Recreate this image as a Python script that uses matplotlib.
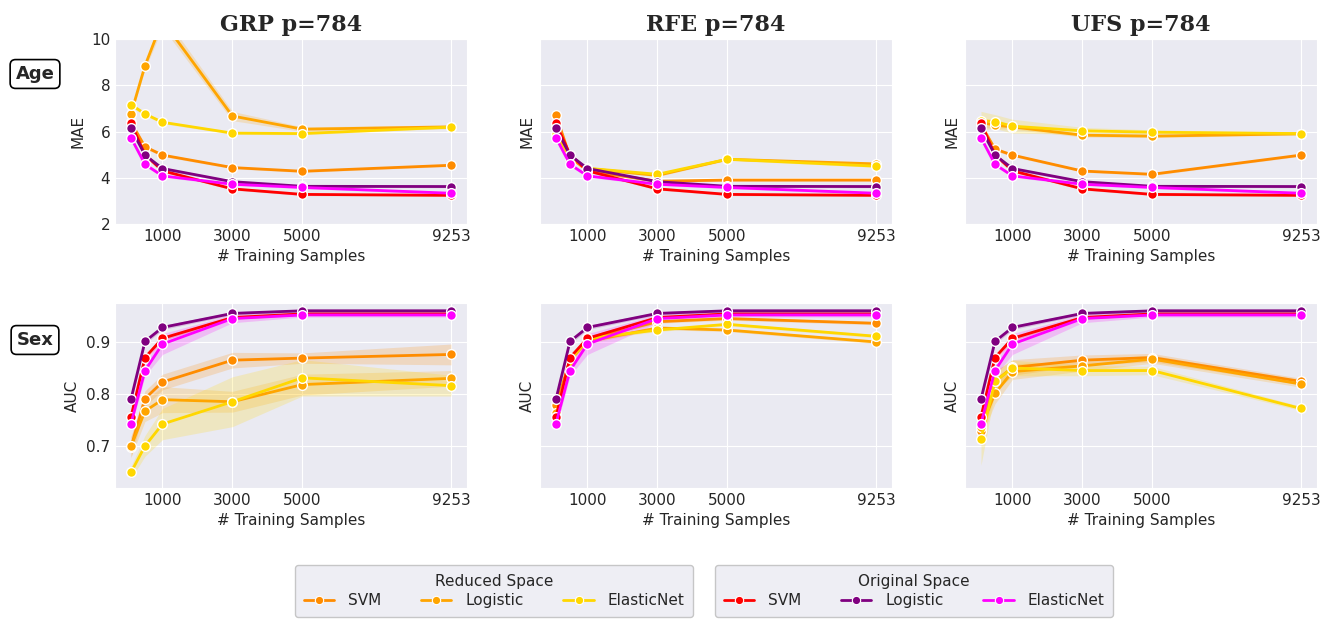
import matplotlib
matplotlib.use("Agg")
import matplotlib.pyplot as plt
import seaborn as sns
import numpy as np
from matplotlib.lines import Line2D

sns.set_style("darkgrid")
plt.rcParams['font.family'] = ['DejaVu Sans']

# ---------------- data ----------------
n_samples = [100, 500, 1000, 3000, 5000, 9253]
xticks = [1000, 3000, 5000, 9253]
methods = ["GRP", "RFE", "UFS"]
titles = ["GRP p=784", "RFE p=784", "UFS p=784"]
row_labels = ["Age", "Sex"]
ylabels = ["MAE", "AUC"]
models = ["SVM", "Logistic", "ElasticNet"]

# Original space (same for every panel)
orig_age_svm = [6.35, 5.00, 4.30, 3.52, 3.28, 3.24]
orig_age_log = [6.13, 4.98, 4.40, 3.83, 3.63, 3.62]
orig_age_en = [5.73, 4.58, 4.08, 3.72, 3.58, 3.33]
orig_sex_svm = [0.757, 0.871, 0.908, 0.948, 0.955, 0.955]
orig_sex_log = [0.791, 0.902, 0.929, 0.956, 0.961, 0.961]
orig_sex_en = [0.744, 0.846, 0.897, 0.946, 0.953, 0.953]

# Reduced space
grp_age_svm = [6.40, 5.34, 4.98, 4.44, 4.28, 4.54]
grp_age_log = [6.77, 8.84, 10.80, 6.67, 6.10, 6.20]
grp_age_en = [7.16, 6.76, 6.40, 5.93, 5.91, 6.19]
rfe_age_svm = [6.72, 4.90, 4.30, 3.85, 3.90, 3.90]
rfe_age_log = [6.20, 4.90, 4.40, 4.10, 4.80, 4.60]
rfe_age_en = [5.91, 4.87, 4.41, 4.15, 4.80, 4.50]
ufs_age_svm = [6.30, 5.24, 4.98, 4.29, 4.15, 4.98]
ufs_age_log = [6.40, 6.27, 6.20, 5.84, 5.80, 5.90]
ufs_age_en = [6.47, 6.43, 6.23, 6.03, 5.97, 5.91]

grp_sex_svm = [0.698, 0.792, 0.824, 0.866, 0.870, 0.877]
grp_sex_log = [0.700, 0.768, 0.790, 0.786, 0.819, 0.831]
grp_sex_en = [0.650, 0.701, 0.743, 0.786, 0.832, 0.817]
rfe_sex_svm = [0.779, 0.866, 0.906, 0.940, 0.946, 0.937]
rfe_sex_log = [0.765, 0.868, 0.902, 0.928, 0.924, 0.901]
rfe_sex_en = [0.757, 0.865, 0.908, 0.924, 0.935, 0.912]
ufs_sex_svm = [0.730, 0.825, 0.852, 0.866, 0.871, 0.825]
ufs_sex_log = [0.737, 0.802, 0.844, 0.855, 0.868, 0.820]
ufs_sex_en = [0.714, 0.825, 0.851, 0.846, 0.846, 0.773]

# confidence band half-widths (estimated)
band_age_default = [0.10, 0.08, 0.06, 0.05, 0.05, 0.05]
band_sex_default = [0.006, 0.005, 0.004, 0.003, 0.003, 0.003]
band_grp_age_log = [0.10, 0.15, 0.30, 0.20, 0.10, 0.08]
band_ufs_age_en = [0.40, 0.30, 0.30, 0.15, 0.10, 0.06]
band_ufs_age_log = [0.20, 0.15, 0.10, 0.08, 0.06, 0.05]
band_grp_sex_svm = [0.020, 0.015, 0.015, 0.015, 0.010, 0.020]
band_grp_sex_log = [0.020, 0.020, 0.025, 0.020, 0.020, 0.015]
band_grp_sex_en = [0.012, 0.020, 0.030, 0.048, 0.035, 0.020]
band_orig_sex_en = [0.008, 0.010, 0.020, 0.008, 0.004, 0.004]
band_ufs_sex_en = [0.050, 0.020, 0.015, 0.010, 0.008, 0.004]
band_ufs_sex_svm = [0.020, 0.020, 0.015, 0.010, 0.008, 0.006]
band_ufs_sex_log = [0.020, 0.020, 0.015, 0.010, 0.008, 0.006]

reduced_colors = ["#FF8C00", "#FFA500", "#FFD700"]
orig_colors = ["#FF0000", "#800080", "#FF00FF"]

reduced = {
    ("GRP", 0): [(grp_age_svm, band_age_default), (grp_age_log, band_grp_age_log), (grp_age_en, band_age_default)],
    ("RFE", 0): [(rfe_age_svm, band_age_default), (rfe_age_log, band_age_default), (rfe_age_en, band_age_default)],
    ("UFS", 0): [(ufs_age_svm, band_age_default), (ufs_age_log, band_ufs_age_log), (ufs_age_en, band_ufs_age_en)],
    ("GRP", 1): [(grp_sex_svm, band_grp_sex_svm), (grp_sex_log, band_grp_sex_log), (grp_sex_en, band_grp_sex_en)],
    ("RFE", 1): [(rfe_sex_svm, band_sex_default), (rfe_sex_log, band_sex_default), (rfe_sex_en, band_sex_default)],
    ("UFS", 1): [(ufs_sex_svm, band_ufs_sex_svm), (ufs_sex_log, band_ufs_sex_log), (ufs_sex_en, band_ufs_sex_en)],
}
original = {
    0: [(orig_age_svm, band_age_default), (orig_age_log, band_age_default), (orig_age_en, band_age_default)],
    1: [(orig_sex_svm, band_sex_default), (orig_sex_log, band_sex_default), (orig_sex_en, band_orig_sex_en)],
}

# ---------------- figure ----------------
fig = plt.figure(figsize=(13.35, 6.19), dpi=100)
lefts = [115 / 1335, 540 / 1335, 965 / 1335]
bottoms = [1 - 224 / 619, 1 - 488 / 619]
w = 352 / 1335
h = 185 / 619
text_col = "#262626"


def draw(ax, vals, band, color):
    v = np.array(vals)
    b = np.array(band)
    ax.fill_between(n_samples, v - b, v + b, color=color, alpha=0.2, linewidth=0)
    ax.plot(n_samples, v, color=color, lw=2, marker="o", ms=7,
            markeredgecolor="white", markeredgewidth=1)


for r in range(2):
    for c, m in enumerate(methods):
        ax = fig.add_axes([lefts[c], bottoms[r], w, h])
        for (vals, band), col in zip(reduced[(m, r)], reduced_colors):
            draw(ax, vals, band, col)
        for (vals, band), col in zip(original[r], orig_colors):
            draw(ax, vals, band, col)
        ax.set_xticks(xticks)
        ax.set_xticklabels([str(t) for t in xticks], fontsize=11, color=text_col)
        ax.set_xlabel("# Training Samples", fontsize=11, color=text_col)
        ax.set_ylabel(ylabels[r], fontsize=11, color=text_col)
        if r == 0:
            ax.set_ylim(2, 10)
            ax.set_yticks([2, 4, 6, 8, 10])
            ax.set_title(titles[c], fontsize=16, fontweight="bold", family="DejaVu Serif",
                         color=text_col, pad=6)
        else:
            ax.set_ylim(0.62, 0.976)
            ax.set_yticks([0.7, 0.8, 0.9])
        if c == 0:
            ax.tick_params(axis="y", labelsize=11, labelcolor=text_col)
        else:
            ax.tick_params(axis="y", labelleft=False)
        ax.tick_params(axis="both", length=0)

for r, lab in enumerate(row_labels):
    yc = [1 - 74 / 619, 1 - 340 / 619][r]
    fig.text(35 / 1335, yc, lab, fontsize=13, fontweight="bold", ha="center", va="center",
             color=text_col,
             bbox=dict(boxstyle="round,pad=0.3", facecolor="white", edgecolor="black", linewidth=1.2))


def handles(colors):
    return [Line2D([0], [0], color=col, lw=2, marker="o", ms=6, markeredgecolor="white",
                   markeredgewidth=0.8) for col in colors]


leg_kw = dict(ncol=3, loc="center", fontsize=11, title_fontsize=11, frameon=True,
              handlelength=2, columnspacing=2.6, borderpad=0.55, labelspacing=0.3,
              handletextpad=0.9)
leg1 = fig.legend(handles(reduced_colors), models, title="Reduced Space",
                  bbox_to_anchor=(494 / 1335, 1 - 591 / 619), **leg_kw)
leg2 = fig.legend(handles(orig_colors), models, title="Original Space",
                  bbox_to_anchor=(914 / 1335, 1 - 591 / 619), **leg_kw)
for lg in (leg1, leg2):
    lg.get_frame().set_facecolor("#EAEAF2")
    lg.get_frame().set_edgecolor("#BBBBBB")
    lg.get_title().set_color(text_col)
    for t in lg.get_texts():
        t.set_color(text_col)

fig.savefig("out.png", dpi=100)
